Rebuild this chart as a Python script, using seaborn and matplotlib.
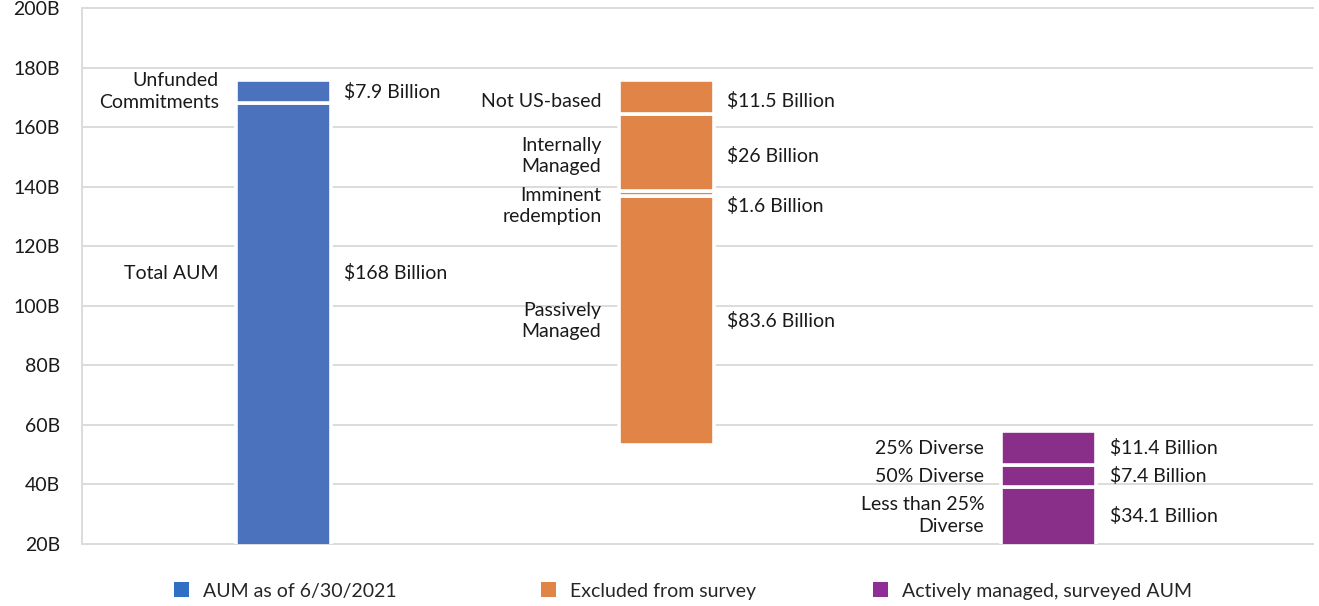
import matplotlib
matplotlib.use("Agg")
import matplotlib.pyplot as plt
from matplotlib.patches import Patch
import seaborn as sns

# Columns of the waterfall and their legend names
categories = ["AUM as of 6/30/2021", "Excluded from survey", "Actively managed, surveyed AUM"]
bar_colors = ["#4A72BD", "#E08447", "#8A2F89"]
legend_colors = ["#2F70C2", "#E08447", "#8E2E96"]

# Segments of each column, bottom to top (values in $ billion)
aum_names = ["Total AUM", "Unfunded\nCommitments"]
aum_values = [168, 7.9]

excluded_names = ["Passively\nManaged", "Imminent\nredemption", "Internally\nManaged", "Not US-based"]
excluded_values = [83.6, 1.6, 26, 11.5]

surveyed_names = ["Less than 25%\nDiverse", "50% Diverse", "25% Diverse"]
surveyed_values = [34.1, 7.4, 11.4]
surveyed_base = 5.0

y_ticks = [20, 40, 60, 80, 100, 120, 140, 160, 180, 200]
y_tick_labels = ["20B", "40B", "60B", "80B", "100B", "120B", "140B", "160B", "180B", "200B"]

# Excluded column hangs down from the top of the total AUM column
aum_top = sum(aum_values)
excluded_base = aum_top - sum(excluded_values)

columns = [
    (aum_names, aum_values, 0.0),
    (excluded_names, excluded_values, excluded_base),
    (surveyed_names, surveyed_values, surveyed_base),
]

# Small vertical nudges (in $B) for labels that would otherwise collide
label_shift = {"Total AUM": 17.0, "Imminent\nredemption": -4.0, "Not US-based": -1.5,
               "Internally\nManaged": -1.0}

sns.set_theme(style="white")
plt.rcParams["font.family"] = ["Lato", "DejaVu Sans"]

fig = plt.figure(figsize=(13.19, 6.06), dpi=100)
ax = fig.add_axes([82 / 1319, 1 - 544 / 606, (1313 - 82) / 1319, (544 - 8) / 606])

bar_width = 0.248
ymin, ymax = 20, 200
text_color = "#1a1a1a"
fs = 14

for ci, (names, values, base) in enumerate(columns):
    bottom = base
    for name, val in zip(names, values):
        sns.barplot(x=[categories[ci]], y=[val], order=categories, bottom=bottom,
                    color=bar_colors[ci], saturation=1, width=bar_width, errorbar=None,
                    edgecolor="white", linewidth=2.6, ax=ax, zorder=3)
        lo = max(bottom, ymin)
        hi = bottom + val
        ymid = (lo + hi) / 2 + label_shift.get(name, 0.0)
        ax.text(ci - bar_width / 2 - 0.045, ymid, name, ha="right", va="center",
                fontsize=fs, color=text_color, linespacing=1.3, zorder=4)
        ax.text(ci + bar_width / 2 + 0.035, ymid, f"${val:g} Billion", ha="left",
                va="center", fontsize=fs, color=text_color, zorder=4)
        bottom += val

ax.set_xlim(-0.526, 2.69)
ax.set_ylim(ymin, ymax)
ax.set_yticks(y_ticks)
ax.set_yticklabels(y_tick_labels, fontsize=fs, color=text_color)
ax.set_xticks([])
ax.set_xlabel("")
ax.set_ylabel("")
ax.tick_params(axis="y", length=0, pad=16)
ax.grid(axis="y", color="#DCDCDC", linewidth=1.4, zorder=0)
ax.set_axisbelow(True)
for side in ["top", "bottom", "left"]:
    ax.spines[side].set_color("#DCDCDC")
    ax.spines[side].set_linewidth(1.4)
ax.spines["right"].set_visible(False)

# One legend entry per column, spread along the bottom
legend_x = [174, 541, 873]
for cat, col, lx in zip(categories, legend_colors, legend_x):
    fig.legend(handles=[Patch(facecolor=col, edgecolor="none", label=cat)],
               loc="center left", bbox_to_anchor=(lx / 1319, 1 - 591 / 606),
               frameon=False, fontsize=fs, handlelength=0.75, handleheight=0.8,
               handletextpad=0.75, borderpad=0, borderaxespad=0)

fig.savefig("out.png", dpi=100)
